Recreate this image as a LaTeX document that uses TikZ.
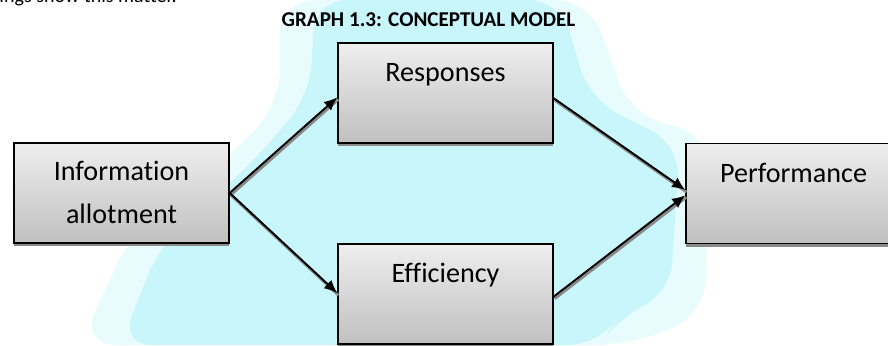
\documentclass[tikz,border=0pt]{standalone}
\usepackage{fontspec}
\setmainfont{Carlito}[Ligatures=NoCommon]
\usepackage{tikz}
\usetikzlibrary{arrows.meta,positioning,calc,shadows}
\definecolor{modelCyan}{HTML}{C8F6FB}
\definecolor{modelPale}{HTML}{E8FBFD}
\definecolor{modelTop}{HTML}{EEEEEE}
\definecolor{modelBottom}{HTML}{C0C0C0}
\definecolor{modelShade}{HTML}{8A8A8A}
\tikzset{
  concept/.style={draw=black,line width=.8pt,top color=modelTop,bottom color=modelBottom,
    minimum width=4.3cm,minimum height=2cm,inner sep=0pt,
    drop shadow={shadow xshift=0pt,shadow yshift=-1.8pt,fill=modelShade,opacity=1}},
  conceptText/.style={font=\fontsize{16}{24.4}\selectfont,align=center,anchor=base,inner sep=0pt},
  link/.style={-{Latex[length=7.5pt,width=6.5pt]},line width=1.1pt,
    preaction={draw=modelShade,line width=1.5pt,-,transform canvas={shift={(.6pt,-1.2pt)}}}}
}

\begin{document}
\begin{tikzpicture}[x=1cm,y=1cm,>=Latex]
  \useasboundingbox (0,0) rectangle (17.76,6.9);
  \clip (0,0) rectangle (17.76,6.9);
  % watermark behind the model
  \fill[modelPale,rounded corners=20pt] (5.6,6.9) -- (11.8,6.9) -- (12.6,4.6) -- (14.2,4.2)
    -- (14.1,0.6) -- (12.6,0) -- (1.6,0) -- (2.6,2.2) -- (4.4,3.6) -- (5.6,4.8) -- cycle;
  \fill[modelCyan,rounded corners=18pt] (6.3,6.9) -- (11.2,6.9) -- (11.8,4.9) -- (13.6,4.0)
    -- (13.4,1.0) -- (12.4,0.6) -- (12.0,0) -- (2.4,0) -- (3.2,2.0) -- (5.0,3.6) -- (6.2,5.0) -- cycle;
  % cut-off line of the page text
  \node[font=\fontsize{11.4}{13}\selectfont,anchor=base east,inner sep=0pt] (pageLine)
       at (3.54,6.84) {findings show this matter.};
  \node[font=\fontsize{12}{14}\selectfont\bfseries,inner sep=0pt] (graphTitle)
       at (8.57,6.5) {GRAPH 1.3: CONCEPTUAL MODEL};
  % boxes
  \node[concept] (info) at (2.43,3.04) {};
  \node[concept] (resp) at (8.91,5.04) {};
  \node[concept] (eff)  at (8.91,1.02) {};
  \node[concept] (perf) at (15.87,3.03) {};
  \node[conceptText] (infoText) at ($(info.north)+(0,-1.62)$) {Information\\allotment};
  \node[conceptText] (respText) at ($(resp.north)+(0,-.78)$) {Responses};
  \node[conceptText] (effText)  at ($(eff.north)+(0,-.78)$) {Efficiency};
  \node[conceptText] (perfText) at ($(perf.north)+(0,-.79)$) {Performance};
  % links
  \draw[link] (info.east) -- ([yshift=-2.5pt]resp.west);
  \draw[link] (info.east) -- ([yshift=.5pt]eff.west);
  \draw[link] ([yshift=-3pt]resp.east) -- ([yshift=2pt]perf.west);
  \draw[link] ([yshift=-1.5pt]eff.east) -- ([yshift=-1pt]perf.west);
\end{tikzpicture}
\end{document}
